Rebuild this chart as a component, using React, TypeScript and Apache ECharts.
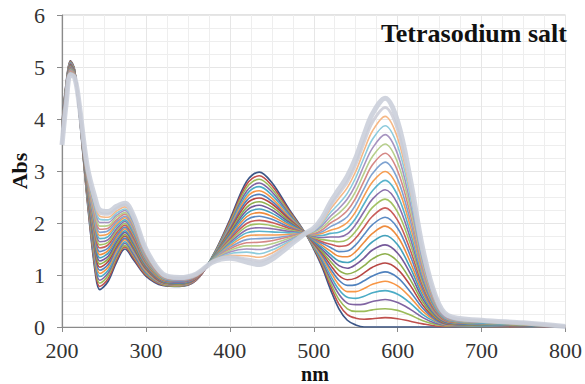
import React, { useEffect, useRef } from "react";
import * as echarts from "echarts";

const WAVELENGTHS = [200, 205, 210, 215, 220, 230, 240, 245, 255, 265, 275, 285, 300, 320, 340, 360, 380, 400, 420, 435, 450, 470, 490, 500, 510, 520, 530, 540, 550, 560, 570, 585, 600, 615, 630, 645, 660, 700, 750, 800];

const S0 = [3.9, 4.7, 5.12, 4.95, 4.2, 2.45, 1.0, 0.72, 0.88, 1.25, 1.5, 1.3, 0.98, 0.8, 0.78, 0.9, 1.38, 2.06, 2.8, 2.98, 2.78, 2.28, 1.8, 1.5, 1.15, 0.72, 0.35, 0.13, 0.04, 0, 0, 0, 0, 0, 0, 0, 0, 0, 0, 0];
const S1 = [3.88, 4.68, 5.11, 4.94, 4.21, 2.48, 1.06, 0.78, 0.93, 1.29, 1.54, 1.33, 1.0, 0.81, 0.79, 0.9, 1.37, 2.03, 2.74, 2.91, 2.72, 2.25, 1.8, 1.52, 1.19, 0.79, 0.44, 0.24, 0.17, 0.15, 0.16, 0.18, 0.16, 0.11, 0.06, 0.02, 0.01, 0.01, 0, 0];
const S2 = [3.87, 4.67, 5.1, 4.94, 4.21, 2.5, 1.12, 0.84, 0.99, 1.34, 1.57, 1.37, 1.02, 0.82, 0.79, 0.91, 1.37, 2.0, 2.68, 2.84, 2.66, 2.22, 1.8, 1.53, 1.23, 0.85, 0.53, 0.35, 0.3, 0.3, 0.33, 0.35, 0.32, 0.23, 0.12, 0.05, 0.02, 0.01, 0.01, 0];
const S3 = [3.85, 4.65, 5.09, 4.93, 4.22, 2.53, 1.17, 0.9, 1.04, 1.38, 1.61, 1.4, 1.04, 0.83, 0.8, 0.91, 1.36, 1.97, 2.61, 2.77, 2.6, 2.19, 1.8, 1.55, 1.26, 0.92, 0.63, 0.46, 0.43, 0.44, 0.49, 0.53, 0.47, 0.34, 0.18, 0.07, 0.03, 0.02, 0.01, 0];
const S4 = [3.84, 4.64, 5.08, 4.93, 4.22, 2.55, 1.23, 0.97, 1.09, 1.42, 1.64, 1.44, 1.06, 0.84, 0.81, 0.92, 1.36, 1.94, 2.55, 2.7, 2.54, 2.16, 1.8, 1.56, 1.3, 0.99, 0.72, 0.57, 0.55, 0.59, 0.66, 0.7, 0.63, 0.46, 0.24, 0.1, 0.04, 0.02, 0.01, 0];
const S5 = [3.82, 4.62, 5.07, 4.92, 4.23, 2.58, 1.29, 1.03, 1.15, 1.46, 1.68, 1.47, 1.08, 0.84, 0.81, 0.92, 1.35, 1.91, 2.49, 2.62, 2.48, 2.13, 1.8, 1.58, 1.34, 1.06, 0.81, 0.68, 0.68, 0.74, 0.82, 0.88, 0.79, 0.57, 0.3, 0.12, 0.04, 0.03, 0.02, 0];
const S6 = [3.8, 4.6, 5.06, 4.91, 4.24, 2.61, 1.35, 1.09, 1.2, 1.51, 1.71, 1.5, 1.11, 0.85, 0.82, 0.93, 1.35, 1.88, 2.43, 2.55, 2.42, 2.1, 1.8, 1.6, 1.38, 1.12, 0.9, 0.8, 0.81, 0.89, 0.98, 1.06, 0.95, 0.68, 0.36, 0.14, 0.05, 0.03, 0.02, 0];
const S7 = [3.79, 4.59, 5.04, 4.91, 4.24, 2.63, 1.41, 1.15, 1.26, 1.55, 1.75, 1.54, 1.13, 0.86, 0.83, 0.93, 1.34, 1.85, 2.37, 2.48, 2.37, 2.08, 1.8, 1.61, 1.42, 1.19, 0.99, 0.91, 0.94, 1.04, 1.15, 1.23, 1.11, 0.8, 0.42, 0.17, 0.06, 0.04, 0.02, 0];
const S8 = [3.77, 4.57, 5.03, 4.9, 4.25, 2.66, 1.46, 1.21, 1.31, 1.59, 1.78, 1.57, 1.15, 0.87, 0.83, 0.94, 1.34, 1.82, 2.3, 2.41, 2.31, 2.05, 1.8, 1.63, 1.45, 1.26, 1.09, 1.02, 1.07, 1.18, 1.31, 1.41, 1.26, 0.91, 0.48, 0.19, 0.07, 0.04, 0.03, 0];
const S9 = [3.76, 4.56, 5.02, 4.9, 4.25, 2.68, 1.52, 1.27, 1.36, 1.64, 1.82, 1.61, 1.17, 0.88, 0.84, 0.94, 1.33, 1.79, 2.24, 2.34, 2.25, 2.02, 1.8, 1.64, 1.49, 1.33, 1.18, 1.13, 1.2, 1.33, 1.48, 1.58, 1.42, 1.03, 0.54, 0.22, 0.08, 0.05, 0.03, 0];
const S10 = [3.74, 4.54, 5.01, 4.89, 4.26, 2.71, 1.58, 1.33, 1.42, 1.68, 1.85, 1.64, 1.19, 0.89, 0.85, 0.95, 1.33, 1.76, 2.18, 2.27, 2.19, 1.99, 1.8, 1.66, 1.53, 1.39, 1.27, 1.24, 1.32, 1.48, 1.64, 1.76, 1.58, 1.14, 0.6, 0.24, 0.09, 0.05, 0.03, 0];
const S11 = [3.72, 4.52, 5.0, 4.88, 4.27, 2.74, 1.64, 1.39, 1.47, 1.72, 1.89, 1.67, 1.21, 0.9, 0.86, 0.95, 1.32, 1.73, 2.12, 2.2, 2.13, 1.96, 1.8, 1.68, 1.57, 1.46, 1.36, 1.35, 1.45, 1.63, 1.8, 1.94, 1.74, 1.25, 0.66, 0.26, 0.1, 0.06, 0.04, 0];
const S12 = [3.71, 4.51, 4.99, 4.88, 4.27, 2.76, 1.7, 1.45, 1.52, 1.76, 1.92, 1.71, 1.23, 0.91, 0.86, 0.96, 1.32, 1.7, 2.06, 2.13, 2.07, 1.93, 1.8, 1.69, 1.61, 1.53, 1.45, 1.46, 1.58, 1.78, 1.97, 2.11, 1.9, 1.37, 0.72, 0.29, 0.11, 0.06, 0.04, 0];
const S13 = [3.69, 4.49, 4.98, 4.87, 4.28, 2.79, 1.75, 1.52, 1.58, 1.81, 1.96, 1.74, 1.25, 0.91, 0.87, 0.96, 1.31, 1.68, 1.99, 2.05, 2.01, 1.9, 1.8, 1.71, 1.64, 1.59, 1.55, 1.57, 1.71, 1.92, 2.13, 2.29, 2.05, 1.48, 0.78, 0.31, 0.11, 0.07, 0.04, 0.01];
const S14 = [3.68, 4.48, 4.97, 4.87, 4.28, 2.81, 1.81, 1.58, 1.63, 1.85, 1.99, 1.78, 1.27, 0.92, 0.88, 0.97, 1.31, 1.65, 1.93, 1.98, 1.95, 1.87, 1.8, 1.72, 1.68, 1.66, 1.64, 1.68, 1.84, 2.07, 2.3, 2.46, 2.21, 1.6, 0.84, 0.34, 0.12, 0.07, 0.04, 0.01];
const S15 = [3.66, 4.46, 4.96, 4.86, 4.29, 2.84, 1.87, 1.64, 1.68, 1.89, 2.03, 1.81, 1.29, 0.93, 0.88, 0.97, 1.3, 1.62, 1.87, 1.91, 1.89, 1.84, 1.8, 1.74, 1.72, 1.73, 1.73, 1.79, 1.97, 2.22, 2.46, 2.64, 2.37, 1.71, 0.9, 0.36, 0.13, 0.08, 0.05, 0.01];
const S16 = [3.64, 4.44, 4.95, 4.85, 4.3, 2.87, 1.93, 1.7, 1.74, 1.94, 2.06, 1.84, 1.31, 0.94, 0.89, 0.98, 1.3, 1.59, 1.81, 1.84, 1.83, 1.81, 1.8, 1.76, 1.76, 1.8, 1.82, 1.9, 2.09, 2.37, 2.62, 2.82, 2.53, 1.82, 0.96, 0.38, 0.14, 0.08, 0.05, 0.01];
const S17 = [3.63, 4.43, 4.94, 4.85, 4.3, 2.89, 1.99, 1.76, 1.79, 1.98, 2.1, 1.88, 1.33, 0.95, 0.9, 0.98, 1.29, 1.56, 1.75, 1.77, 1.77, 1.78, 1.8, 1.77, 1.8, 1.86, 1.91, 2.01, 2.22, 2.52, 2.79, 2.99, 2.69, 1.94, 1.02, 0.41, 0.15, 0.09, 0.05, 0.01];
const S18 = [3.61, 4.41, 4.93, 4.84, 4.31, 2.92, 2.04, 1.82, 1.85, 2.02, 2.13, 1.91, 1.35, 0.96, 0.9, 0.99, 1.29, 1.53, 1.68, 1.7, 1.71, 1.75, 1.8, 1.79, 1.83, 1.93, 2.01, 2.12, 2.35, 2.66, 2.95, 3.17, 2.84, 2.05, 1.08, 0.43, 0.16, 0.09, 0.06, 0.01];
const S19 = [3.6, 4.4, 4.92, 4.84, 4.31, 2.94, 2.1, 1.88, 1.9, 2.06, 2.17, 1.95, 1.38, 0.97, 0.91, 0.99, 1.28, 1.5, 1.62, 1.63, 1.66, 1.73, 1.8, 1.8, 1.87, 2.0, 2.1, 2.24, 2.48, 2.81, 3.12, 3.34, 3.0, 2.17, 1.14, 0.46, 0.17, 0.1, 0.06, 0.01];
const S20 = [3.58, 4.38, 4.9, 4.83, 4.32, 2.97, 2.16, 1.94, 1.95, 2.11, 2.2, 1.98, 1.4, 0.98, 0.92, 1.0, 1.28, 1.47, 1.56, 1.56, 1.6, 1.7, 1.8, 1.82, 1.91, 2.06, 2.19, 2.35, 2.61, 2.96, 3.28, 3.52, 3.16, 2.28, 1.2, 0.48, 0.18, 0.1, 0.06, 0.01];
const S21 = [3.56, 4.36, 4.89, 4.82, 4.33, 3.0, 2.22, 2.01, 2.01, 2.15, 2.24, 2.01, 1.42, 0.99, 0.92, 1.0, 1.27, 1.44, 1.5, 1.49, 1.54, 1.67, 1.8, 1.84, 1.95, 2.13, 2.28, 2.46, 2.74, 3.11, 3.44, 3.7, 3.32, 2.39, 1.26, 0.5, 0.18, 0.11, 0.07, 0.01];
const S22 = [3.55, 4.35, 4.88, 4.82, 4.33, 3.02, 2.28, 2.07, 2.06, 2.19, 2.27, 2.05, 1.44, 0.99, 0.93, 1.01, 1.27, 1.41, 1.44, 1.41, 1.48, 1.64, 1.8, 1.85, 1.99, 2.2, 2.37, 2.57, 2.87, 3.26, 3.61, 3.87, 3.48, 2.51, 1.32, 0.53, 0.19, 0.11, 0.07, 0.01];
const S23 = [3.53, 4.33, 4.87, 4.81, 4.34, 3.05, 2.33, 2.13, 2.11, 2.23, 2.31, 2.08, 1.46, 1.0, 0.94, 1.01, 1.26, 1.38, 1.37, 1.34, 1.42, 1.61, 1.8, 1.87, 2.02, 2.27, 2.47, 2.68, 2.99, 3.4, 3.77, 4.05, 3.63, 2.62, 1.38, 0.55, 0.2, 0.12, 0.07, 0.01];
const S24 = [3.52, 4.32, 4.86, 4.81, 4.34, 3.07, 2.39, 2.19, 2.17, 2.28, 2.35, 2.12, 1.48, 1.01, 0.94, 1.02, 1.26, 1.35, 1.31, 1.27, 1.36, 1.58, 1.8, 1.88, 2.06, 2.33, 2.56, 2.79, 3.12, 3.55, 3.94, 4.22, 3.79, 2.74, 1.44, 0.58, 0.21, 0.12, 0.08, 0.01];
const S25 = [3.5, 4.3, 4.85, 4.8, 4.35, 3.1, 2.45, 2.25, 2.22, 2.32, 2.38, 2.15, 1.5, 1.02, 0.95, 1.02, 1.25, 1.32, 1.25, 1.2, 1.3, 1.55, 1.8, 1.9, 2.1, 2.4, 2.65, 2.9, 3.25, 3.7, 4.1, 4.4, 3.95, 2.85, 1.5, 0.6, 0.22, 0.13, 0.08, 0.01];

const SPECTRA = [S0, S1, S2, S3, S4, S5, S6, S7, S8, S9, S10, S11, S12, S13, S14, S15, S16, S17, S18, S19, S20, S21, S22, S23, S24, S25];

const COLORS = [
  "#3B5687", "#C0504D", "#9BBB59", "#8064A2", "#4BACC6", "#F79646",
  "#4F81BD", "#B84744", "#8FB04E", "#75599A", "#44A2BC", "#EE8C3E",
  "#5A8AC4", "#C95C59", "#A3C264", "#8A6FAB", "#58B3CB", "#F59D52",
  "#7FA3D1", "#D58886", "#B7CF8C", "#A794C0", "#8DCBDC", "#F6B886",
  "#CACBD6", "#C8CCD8",
];
const WIDTHS = [1.7, 1.6, 1.6, 1.6, 1.6, 1.6, 1.6, 1.6, 1.6, 1.6, 1.6, 1.6, 1.6, 1.6, 1.6, 1.6, 1.6, 1.6, 1.6, 1.6, 1.6, 1.6, 1.6, 1.6, 3, 5];

const X_TICKS = { min: 200, max: 800, interval: 100 };
const Y_TICKS = { min: 0, max: 6, interval: 1 };

export default function App() {
  const ref = useRef<HTMLDivElement>(null);
  useEffect(() => {
    if (!ref.current) return;
    const chart = echarts.init(ref.current, undefined, { renderer: "svg" });
    const font = "Liberation Serif";
    const axisLabel = { fontFamily: font, fontSize: 22, color: "#333333" };
    const series = SPECTRA.map((s, i) => ({
      type: "line",
      data: WAVELENGTHS.map((w, j) => [w, s[j]]),
      showSymbol: false,
      smooth: 0.35,
      lineStyle: { width: WIDTHS[i], color: COLORS[i], opacity: i >= 24 ? 0.85 : 1 },
      z: 2,
      silent: true,
    }));
    chart.setOption({
      animation: false,
      backgroundColor: "#ffffff",
      textStyle: { fontFamily: font },
      grid: { left: 62, top: 15, width: 506, height: 312, show: true, borderColor: "#c6c6c6", borderWidth: 1 },
      xAxis: {
        type: "value",
        ...X_TICKS,
        axisLine: { show: true, onZero: false, lineStyle: { color: "#8a8a8a", width: 1.2 } },
        axisTick: { show: true, inside: false, length: 5, lineStyle: { color: "#8a8a8a" } },
        axisLabel: { ...axisLabel, margin: 12 },
        splitLine: { show: true, lineStyle: { color: "#e6e6e6" } },
        minorTick: { show: false, splitNumber: 4 },
        minorSplitLine: { show: true, lineStyle: { color: "#eeeeee" } },
      },
      yAxis: {
        type: "value",
        ...Y_TICKS,
        axisLine: { show: true, lineStyle: { color: "#8a8a8a", width: 1.2 } },
        axisTick: { show: true, inside: false, length: 5, lineStyle: { color: "#8a8a8a" } },
        axisLabel: { ...axisLabel, margin: 17 },
        splitLine: { show: true, lineStyle: { color: "#e6e6e6" } },
        minorTick: { show: false, splitNumber: 4 },
        minorSplitLine: { show: true, lineStyle: { color: "#eeeeee" } },
      },
      graphic: [
        {
          type: "text",
          x: 567,
          y: 33,
          style: { text: "Tetrasodium salt", font: `bold 26px "${font}"`, fill: "#111", textAlign: "right", textVerticalAlign: "middle" },
          z: 10,
        },
        {
          type: "text",
          x: 19,
          y: 171,
          rotation: Math.PI / 2,
          style: { text: "Abs", font: `bold 22px "${font}"`, fill: "#111", textAlign: "center", textVerticalAlign: "middle" },
        },
        {
          type: "text",
          x: 315,
          y: 374,
          style: { text: "nm", font: `bold 20px "${font}"`, fill: "#111", textAlign: "center", textVerticalAlign: "middle" },
        },
      ],
      series,
    });
    return () => chart.dispose();
  }, []);
  return <div ref={ref} style={{ position: "fixed", left: 0, top: 0, width: 585, height: 384 }} />;
}
